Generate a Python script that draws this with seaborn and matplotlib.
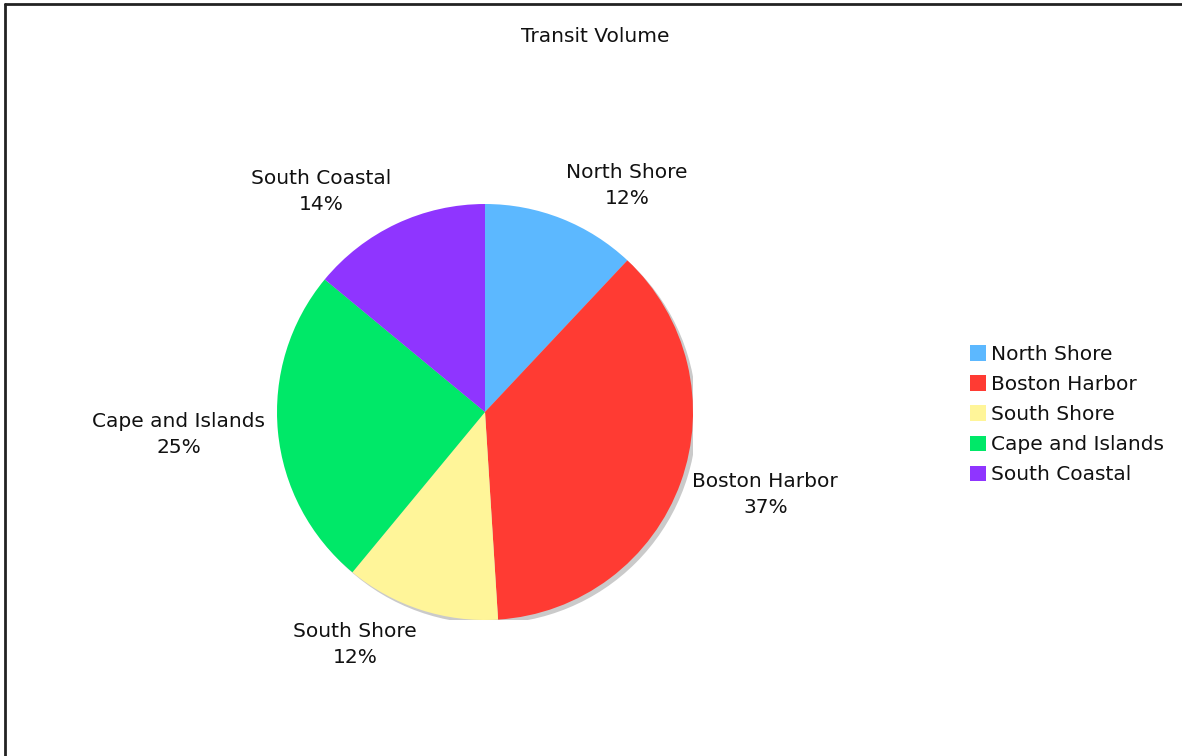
import numpy as np
import matplotlib
matplotlib.use("Agg")
import matplotlib.pyplot as plt
from matplotlib.patches import Patch, Circle
from matplotlib.lines import Line2D
import seaborn as sns

# Regional transit volume shares (percent)
regions = ["North Shore", "Boston Harbor", "South Shore", "Cape and Islands", "South Coastal"]
shares = [12, 37, 12, 25, 14]
colors = ["#5cb8ff", "#ff3b33", "#fff599", "#00e868", "#8f35ff"]
title = "Transit Volume"

sns.set_theme(style="white")
plt.rcParams["font.family"] = ["DejaVu Sans"]
palette = sns.color_palette(colors)

fig = plt.figure(figsize=(11.82, 7.56), dpi=100)
fig.patch.set_facecolor("white")

# square axes holding the pie (radius 1 in data units)
W, H = 1182, 756
cx, cy, r = 485, 412, 208
ax = fig.add_axes([(cx - r) / W, (H - cy - r) / H, 2 * r / W, 2 * r / H])

wedges, _ = ax.pie(shares, colors=palette, startangle=90, counterclock=False,
                   radius=1.0, wedgeprops=dict(linewidth=0), center=(0, 0))
for w in wedges:
    w.set_zorder(1)

# soft drop shadow under the pie
ax.add_patch(Circle((0.018, -0.018), 1.0, facecolor="#cacaca", edgecolor="none", zorder=0))

ax.set_xlim(-1, 1)
ax.set_ylim(-1, 1)
ax.set_aspect("equal")
ax.axis("off")

# labels placed just outside each wedge, nudged vertically away from the pie
fs = 14.5
total = sum(shares)
start = 90.0
for name, val in zip(regions, shares):
    frac = val / total
    mid = np.deg2rad(start - frac * 360 / 2)
    start -= frac * 360
    c, s = np.cos(mid), np.sin(mid)
    d = 1.06
    ha = "left" if c > 0 else "right"
    ax.annotate(f"{name}\n{round(frac * 100)}%", xy=(d * c, d * s),
                xytext=(0, s * 17), textcoords="offset points",
                ha=ha, va="center", multialignment="center",
                fontsize=fs, color="#111111", linespacing=1.47, annotation_clip=False)

fig.text(595 / W, 1 - 36 / H, title, ha="center", va="center", fontsize=fs, color="#111111")

handles = [Patch(facecolor=col, edgecolor="none") for col in palette]
fig.legend(handles, regions, loc="upper left", bbox_to_anchor=(970 / W, 1 - 345 / H),
           frameon=False, fontsize=fs, handlelength=0.8, handleheight=0.8,
           handletextpad=0.25, labelspacing=0.55, borderaxespad=0, borderpad=0,
           labelcolor="#111111")

# frame edges along the top and left
fig.add_artist(Line2D([4.5 / W, 4.5 / W], [0, 1 - 3.5 / H], color="#222222", lw=2, transform=fig.transFigure))
fig.add_artist(Line2D([4.5 / W, 1], [1 - 3.5 / H, 1 - 3.5 / H], color="#222222", lw=2, transform=fig.transFigure))

fig.savefig("out.png", dpi=100, facecolor="white")
